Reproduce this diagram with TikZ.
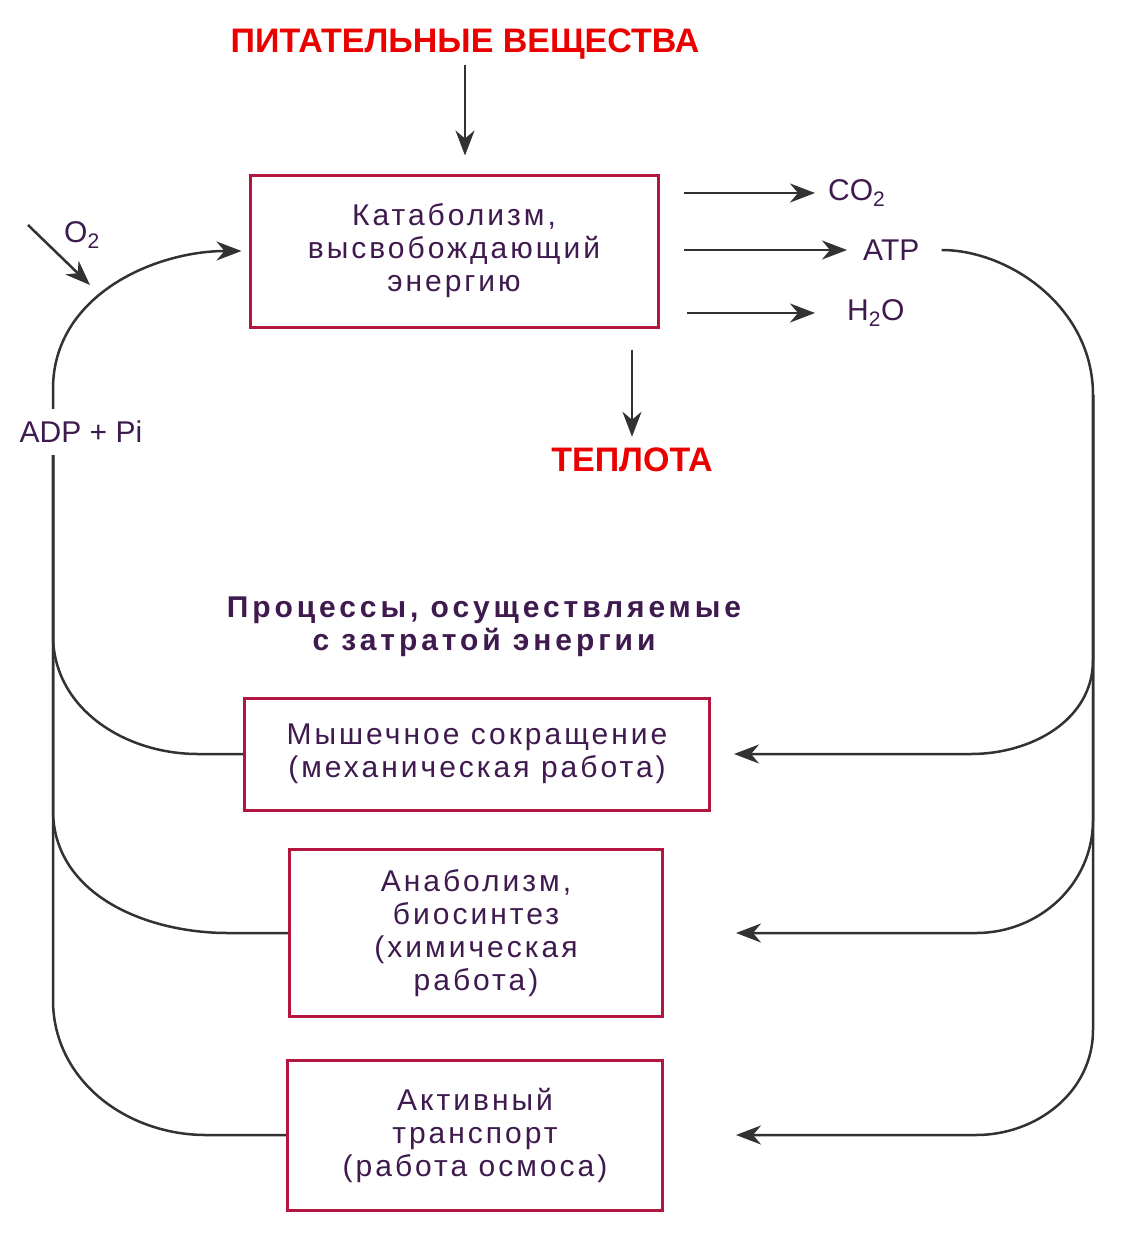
\documentclass[tikz,border=0pt]{standalone}
\usepackage{fontspec}
\setmainfont{Liberation Sans}
\newfontfamily\spacedfont[LetterSpace=10]{Liberation Sans}
\newfontfamily\headfont[LetterSpace=13]{Liberation Sans}
\usetikzlibrary{arrows.meta,positioning}
\definecolor{boxred}{RGB}{178,22,62}
\definecolor{textpurple}{RGB}{62,26,78}
\definecolor{titlered}{RGB}{235,0,0}
\definecolor{linegray}{RGB}{50,50,50}

\begin{document}
\begin{tikzpicture}[x=1pt,y=-1pt,
	main_box/.style={draw=boxred,line width=3pt,text=textpurple,align=center,font=\spacedfont\fontsize{30}{33}\selectfont},
	red_label/.style={text=titlered,inner sep=2pt,font=\bfseries\fontsize{34}{40}\selectfont},
	chem_label/.style={text=textpurple,inner sep=2pt,font=\fontsize{30}{36}\selectfont},
	link/.style={draw=linegray,line width=2.5pt},
	arr/.style={link,-{Stealth[length=25pt,width=19pt,inset=8pt]}}]

		\useasboundingbox (0,0) rectangle (1120,1253);

		\node[red_label] (1) at (465,44) {ПИТАТЕЛЬНЫЕ ВЕЩЕСТВА};
		\node[main_box,minimum width=408pt,minimum height=152pt] (2) at (454,251) {Катаболизм,\\высвобождающий\\энергию};
		\node[chem_label,anchor=west] (3) at (826,193) {CO\textsubscript{2}};
		\node[chem_label,anchor=west] (4) at (861,250) {ATP};
		\node[chem_label,anchor=west] (5) at (845,313) {H\textsubscript{2}O};
		\node[red_label] (6) at (632,460) {ТЕПЛОТА};
		\node[chem_label] (7) at (82,235) {O\textsubscript{2}};
		\node[chem_label,inner ysep=12pt] (8) at (81,432) {ADP + Pi};
		\node[text=textpurple,align=center,font=\headfont\bfseries\fontsize{30}{33}\selectfont] (9) at (484,627) {Процессы, осуществляемые\\с затратой энергии};
		\node[main_box,minimum width=465pt,minimum height=112pt] (10) at (477,754) {Мышечное сокращение\\(механическая работа)};
		\node[main_box,minimum width=373pt,minimum height=167pt] (11) at (476,933) {Анаболизм,\\биосинтез\\(химическая\\работа)};
		\node[main_box,minimum width=375pt,minimum height=150pt] (12) at (475,1135) {Активный\\транспорт\\(работа осмоса)};

		\coordinate (lx) at (53,0);
		\coordinate (rx) at (1093,395);
		\coordinate (o2a) at (28,225);
		\coordinate (o2b) at (90,285);

		\draw[arr,shorten <=4pt,shorten >=18pt] (1.south) -- (1.south |- 2.north);
		\draw[arr,shorten <=24pt,shorten >=11pt] (2.east |- 3.west) -- (3.west);
		\draw[arr,shorten <=24pt,shorten >=14pt] (2.east |- 4.west) -- (4.west);
		\draw[arr,shorten <=27pt,shorten >=30pt] (2.east |- 5.west) -- (5.west);
		\draw[arr,shorten <=21pt,shorten >=9pt] (2.south -| 6.north) -- (6.north);
		\draw[arr] (o2a) -- (o2b);

		\draw[arr,shorten >=7pt] (8.north -| lx) -- ++(0,-20) to[out=90,in=180] (2.west);
		\draw[link] (8.south -| lx) -- ++(0,180) to[out=-90,in=180] ([xshift=-45pt]10.west) -- (10.west);
		\draw[link] (8.south -| lx) -- ++(0,355) to[out=-90,in=180] ([xshift=-60pt]11.west) -- (11.west);
		\draw[link] (8.south -| lx) -- ++(0,545) to[out=-90,in=180] ([xshift=-80pt]12.west) -- (12.west);

		\draw[link,shorten <=20pt] (4.east) to[out=0,in=90] (rx);
		\draw[arr,shorten >=23pt] (rx) -- ++(0,265) to[out=-90,in=0] ([xshift=260pt]10.east) -- (10.east);
		\draw[arr,shorten >=72pt] (rx) -- ++(0,425) to[out=-90,in=0] ([xshift=312pt]11.east) -- (11.east);
		\draw[arr,shorten >=72pt] (rx) -- ++(0,635) to[out=-90,in=0] ([xshift=312pt]12.east) -- (12.east);
		\end{tikzpicture}
\end{document}
